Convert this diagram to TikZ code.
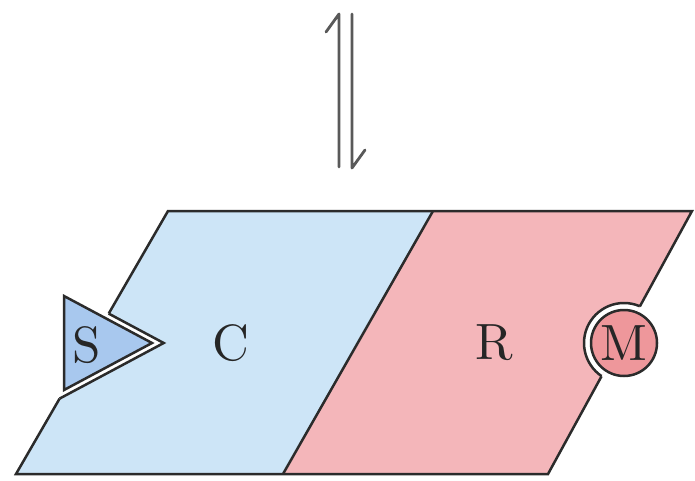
\documentclass[tikz,border=0pt]{standalone}
\usepackage{fontspec}
\newfontfamily\lmten{lmroman10-regular.otf}
\definecolor{cfill}{HTML}{CDE5F7}
\definecolor{rfill}{HTML}{F4B6BA}
\definecolor{sfill}{HTML}{A8C8EE}
\definecolor{mfill}{HTML}{EE979B}
\definecolor{ink}{HTML}{2B2B2B}
\begin{document}
\begin{tikzpicture}[x=1pt,y=-1pt,
  outline/.style={draw=ink,line width=2.5pt,line join=miter},
  lbl/.style={font=\lmten\fontsize{51}{60}\selectfont,text=black!85,inner sep=0pt},
  harp/.style={draw=black!65,line width=2.8pt,line join=round,line cap=round}]
\useasboundingbox (0,0) rectangle (695,481);
% corners of the two parallelograms
\coordinate (TL) at (168,211);
\coordinate (TM) at (433,211);
\coordinate (TR) at (692,211);
\coordinate (BL) at (16,474);
\coordinate (BM) at (283,474);
\coordinate (BR) at (548,474);
% crossing points of the outer edges with the S / M borders
\coordinate (P1) at (108.7,313.6);
\coordinate (P2) at (59.6,398.6);
\coordinate (Q1) at (639.8,306.5);
\coordinate (Q2) at (601.5,376.3);
% S triangle
\coordinate (Sa) at (64,296);
\coordinate (Sb) at (64,390);
\coordinate (St) at (152,343);
\coordinate (So) at (163.7,343);
% fills
\fill[cfill] (TL) -- (TM) -- (BM) -- (BL) -- cycle;
\fill[rfill] (TM) -- (TR) -- (BR) -- (BM) -- cycle;
% outlines
\draw[outline] (P1) -- (TL) -- (TR) -- (Q1);
\draw[outline] (Q2) -- (BR) -- (BL) -- (P2);
\draw[outline] (TM) -- (BM);
% S: double border inside C
\fill[white] (P1) -- (So) -- (P2) -- cycle;
\draw[outline] (P1) -- (So) -- (P2);
\filldraw[outline,fill=sfill] (Sa) -- (St) -- (Sb) -- cycle;
\node[lbl] (S) at (87,345) {S};
% M: double border inside R
\begin{scope}
  \clip (TM) -- (TR) -- (BR) -- (BM) -- cycle;
  \filldraw[outline,fill=white] (624,343) circle (40);
\end{scope}
\node[lbl,circle,draw=ink,line width=2.5pt,fill=mfill,minimum size=66pt] (M) at (624,343) {M};
% labels
\node[lbl] (C) at (231,343) {C};
\node[lbl] (R) at (494,343) {R};
% harpoons
\coordinate (u0) at (339,167);
\coordinate (u1) at (339,14);
\coordinate (d0) at (352,14);
\coordinate (d1) at (352,168);
\draw[harp] (u0) -- (u1) -- ++(-13,18);
\draw[harp] (d0) -- (d1) -- ++(13,-18);
\end{tikzpicture}
\end{document}
